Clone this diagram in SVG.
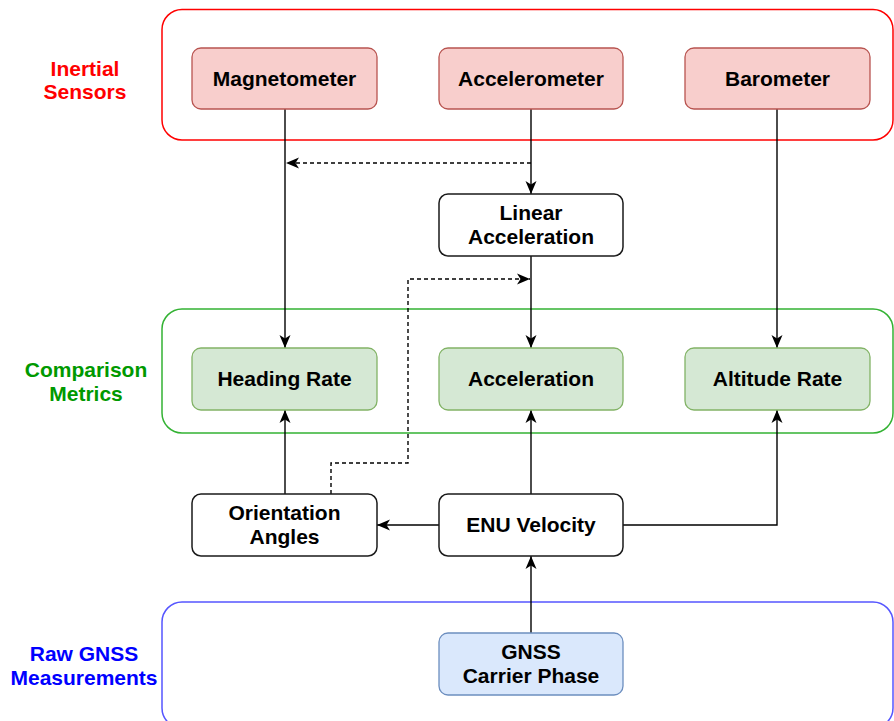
<svg xmlns="http://www.w3.org/2000/svg" width="894" height="721" viewBox="0 0 894 721">
<style>
text{font-family:"Liberation Sans",Arial,sans-serif;font-weight:bold;font-size:21px;text-anchor:middle;fill:#000}
.grp{fill:none;stroke-width:1.5}
.red{fill:#F8CECC;stroke:#B85450;stroke-width:1.3}
.grn{fill:#D5E8D4;stroke:#82B366;stroke-width:1.3}
.blu{fill:#DAE8FC;stroke:#6C8EBF;stroke-width:1.3}
.wht{fill:#FFFFFF;stroke:#1a1a1a;stroke-width:1.5}
.c{fill:none;stroke:#000;stroke-width:1.4;marker-end:url(#arr)}
.d{stroke-dasharray:4 3}
</style>
<defs>
<marker id="arr" markerUnits="userSpaceOnUse" markerWidth="14" markerHeight="12" viewBox="0 0 14 12" refX="13" refY="6" orient="auto">
<path d="M0,0.5 L13,6 L0,11.5 L3.5,6 Z" fill="#000"/>
</marker>
</defs>

<g id="containers">
<rect id="inertial-group" class="grp" x="162" y="9.5" width="731" height="130.5" rx="20" stroke="#FF0000"/>
<rect id="metrics-group" class="grp" x="162" y="309" width="731" height="124" rx="20" stroke="#33B233"/>
<rect id="gnss-group" class="grp" x="162" y="602" width="731" height="126" rx="20" stroke="#5555FF"/>
</g>

<g id="labels">
<text x="85" y="76" style="fill:#FF0000">Inertial</text>
<text x="85" y="99" style="fill:#FF0000">Sensors</text>
<text x="86" y="377" style="fill:#009900">Comparison</text>
<text x="86" y="401" style="fill:#009900">Metrics</text>
<text x="84" y="661" style="fill:#0000FF">Raw GNSS</text>
<text x="84" y="685" style="fill:#0000FF">Measurements</text>
</g>

<g id="connectors">
<path class="c" d="M285,109 V348"/>
<path class="c" d="M531,109 V194"/>
<path class="c d" d="M531,163 H286"/>
<path class="c" d="M531,256 V348"/>
<path class="c d" d="M331,494 V463 H408 V279 H530"/>
<path class="c" d="M777,109 V348"/>
<path class="c" d="M285,494 V410"/>
<path class="c" d="M531,494 V410"/>
<path class="c" d="M439,525 H377"/>
<path class="c" d="M623,525 H777 V410"/>
<path class="c" d="M531,633 V556"/>
</g>

<g id="magnetometer"><rect class="red" x="192" y="48" width="185" height="61" rx="9"/><text x="284.5" y="86">Magnetometer</text></g>
<g id="accelerometer"><rect class="red" x="439" y="48" width="184" height="61" rx="9"/><text x="531" y="86">Accelerometer</text></g>
<g id="barometer"><rect class="red" x="685" y="48" width="185" height="61" rx="9"/><text x="777.5" y="86">Barometer</text></g>

<g id="linear-acceleration"><rect class="wht" x="439" y="194" width="184" height="62" rx="9"/><text x="531" y="220">Linear</text><text x="531" y="244">Acceleration</text></g>

<g id="heading-rate"><rect class="grn" x="192" y="348" width="185" height="62" rx="9"/><text x="284.5" y="386">Heading Rate</text></g>
<g id="acceleration"><rect class="grn" x="439" y="348" width="184" height="62" rx="9"/><text x="531" y="386">Acceleration</text></g>
<g id="altitude-rate"><rect class="grn" x="685" y="348" width="185" height="62" rx="9"/><text x="777.5" y="386">Altitude Rate</text></g>

<g id="orientation-angles"><rect class="wht" x="192" y="494" width="185" height="62" rx="9"/><text x="284.5" y="520">Orientation</text><text x="284.5" y="544">Angles</text></g>
<g id="enu-velocity"><rect class="wht" x="439" y="494" width="184" height="62" rx="9"/><text x="531" y="532">ENU Velocity</text></g>

<g id="gnss-carrier-phase"><rect class="blu" x="439" y="633" width="184" height="62" rx="9"/><text x="531" y="659">GNSS</text><text x="531" y="683">Carrier Phase</text></g>
</svg>
